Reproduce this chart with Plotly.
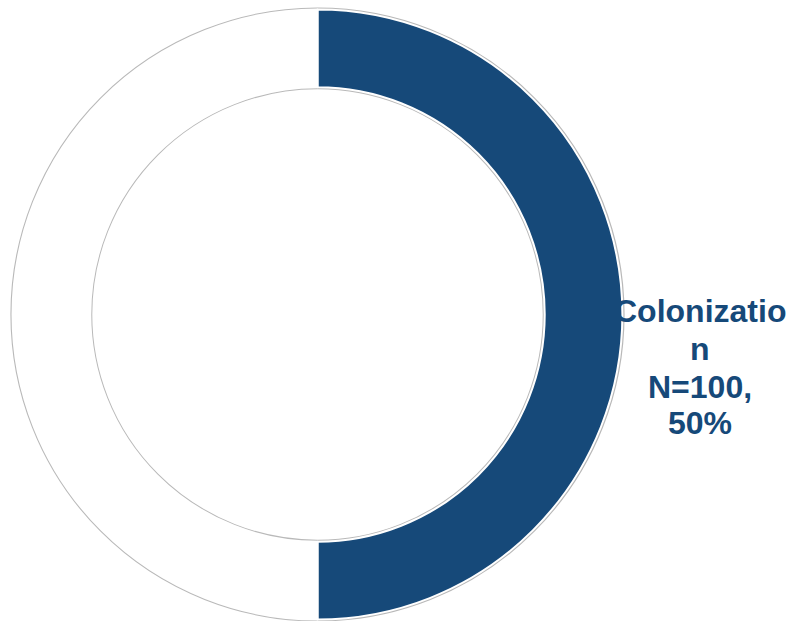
import plotly.graph_objects as go

# Data
categories = ["Colonization", "Other"]
counts = [100, 100]
slice_colors = ["#164979", "#ffffff"]
label_lines = ["Colonizatio", "n"]

total = sum(counts)
pct = round(100 * counts[0] / total)
label_lines = label_lines + [f"N={counts[0]},", f"{pct}%"]

W, H = 790, 621
cx, cy, R = 317.5, 314.5, 305.0  # ring centre (px from top-left) and outer radius
dom_x = [(cx - R) / W, (cx + R) / W]
dom_y = [(H - cy - R) / H, (H - cy + R) / H]
hole = 0.745

fig = go.Figure()

# thin grey outline around the full ring
fig.add_trace(go.Pie(
    values=[total], labels=["ring"], hole=hole, sort=False,
    marker=dict(colors=["#ffffff"], line=dict(color="#b9b9b9", width=4)),
    textinfo="none", hoverinfo="skip", showlegend=False,
    domain=dict(x=dom_x, y=dom_y),
))

# data slices
fig.add_trace(go.Pie(
    values=counts, labels=categories, hole=hole, sort=False,
    direction="clockwise", rotation=0,
    marker=dict(colors=slice_colors, line=dict(color="#ffffff", width=2)),
    textinfo="none", showlegend=False,
    domain=dict(x=dom_x, y=dom_y),
))

# label, one annotation per line for tight line spacing
centers_px = [311, 349, 387, 423]
for txt, yc in zip(label_lines, centers_px):
    fig.add_annotation(
        text=txt, x=700 / W, y=(H - yc) / H, xref="paper", yref="paper",
        xanchor="center", yanchor="middle", showarrow=False,
        font=dict(family="Liberation Sans, Arial, sans-serif", size=32, color="#164979", weight="bold"),
    )

fig.update_layout(
    width=W, height=H, margin=dict(l=0, r=0, t=0, b=0),
    paper_bgcolor="#ffffff", plot_bgcolor="#ffffff",
    showlegend=False,
)

fig.write_html("out.html")
